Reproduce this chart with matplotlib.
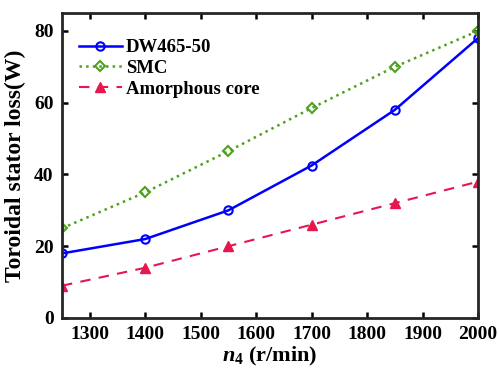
import numpy as np
import matplotlib
matplotlib.use('Agg')
import matplotlib.pyplot as plt

plt.rcParams['font.family'] = 'Liberation Serif'
plt.rcParams['font.weight'] = 'bold'
plt.rcParams['mathtext.fontset'] = 'custom'
plt.rcParams['mathtext.it'] = 'Liberation Serif:italic:bold'
plt.rcParams['mathtext.rm'] = 'Liberation Serif:bold'

# datos
speed = np.array([1250, 1400, 1550, 1700, 1850, 2000])
dw465 = np.array([18, 22, 30, 42.5, 58, 78])
smc = np.array([25, 35, 46.5, 58.5, 70, 80])
amorphous = np.array([9, 14, 20, 26, 32, 38])

fig = plt.figure(figsize=(4.99, 3.79), dpi=100)
ax = fig.add_axes([62/499, 1 - 318/379, (478-62)/499, (318-13)/379])

ax.plot(speed, dw465, color='#0000ff', lw=1.8, marker='o', ms=6, mfc='none',
        mew=1.5, label='DW465-50')
ax.plot(speed, smc, color='#4fa11f', lw=1.8, ls=':', marker='D', ms=5.5,
        mfc='none', mew=1.5, label='SMC')
ax.plot(speed, amorphous, color='#e8164f', lw=1.5, ls=(0, (5, 4)), marker='^',
        ms=7, label='Amorphous core')

ax.set_xlim(1250, 2000)
ax.set_ylim(0, 85)
ax.set_xticks(np.arange(1300, 2001, 100))
ax.set_yticks([0, 20, 40, 60, 80])
ax.tick_params(direction='in', top=True, right=True, labelsize=14, width=1.8,
               length=4, pad=6)
for s in ax.spines.values():
    s.set_linewidth(2)
    s.set_color('#262626')

ax.set_xlabel(r'$\it{n}_{\rm 4}$ (r/min)', fontsize=16, fontweight='bold', labelpad=1)
ax.set_ylabel('Toroidal stator loss(W)', fontsize=17, fontweight='bold', labelpad=6)
ax.legend(loc='upper left', frameon=False, fontsize=13.5, bbox_to_anchor=(0.0, 0.97),
          handlelength=2.3, labelspacing=0.2, handletextpad=0.2)

fig.savefig('out.png', dpi=100)
